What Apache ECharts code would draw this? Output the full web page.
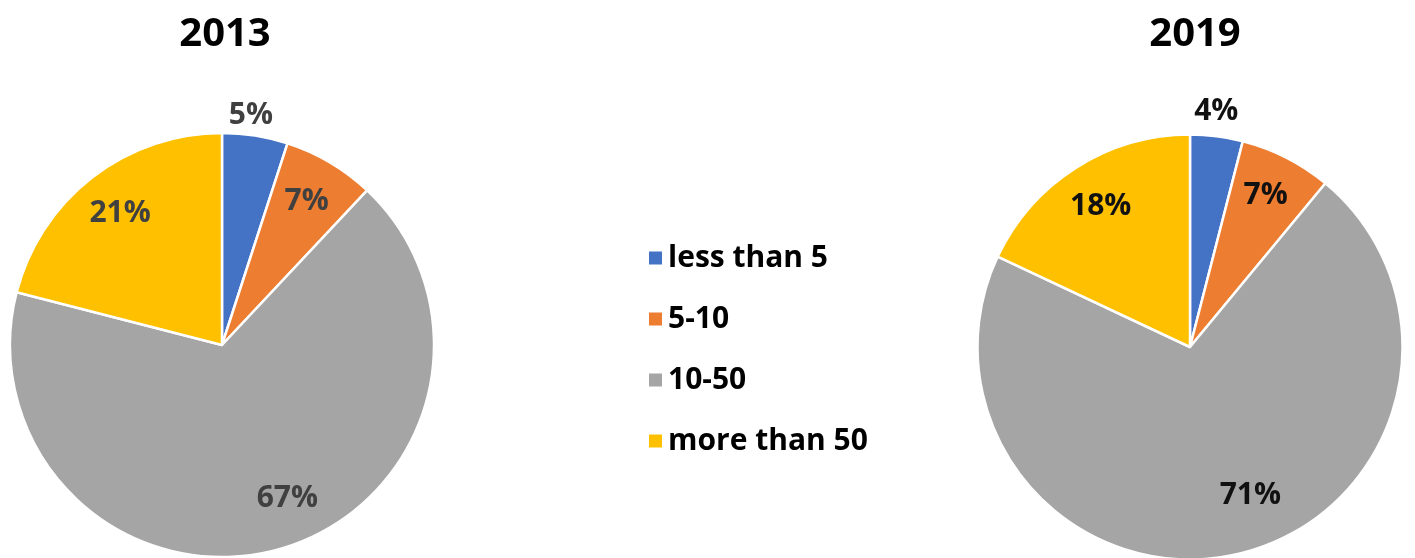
<!DOCTYPE html>
<html>
<head>
<meta charset="utf-8">
<title>Share by size class, 2013 and 2019</title>
<script src="https://cdn.jsdelivr.net/npm/echarts@6/dist/echarts.min.js"></script>
<style>
  html, body { margin: 0; padding: 0; background: #ffffff; }
  #chart { width: 1415px; height: 558px; }
</style>
</head>
<body>
<div id="chart"></div>
<script>
// Size classes and their percentage shares in each year
const categories = ['less than 5', '5-10', '10-50', 'more than 50'];
const years = ['2013', '2019'];
const share2013 = [5, 7, 67, 21];
const share2019 = [4, 7, 71, 18];

const palette = ['#4472C4', '#ED7D31', '#A5A5A5', '#FFC000'];
const FONT = '"Open Sans", "DejaVu Sans", sans-serif';

// Pie geometry (centre and radius of each pie) and small label nudges
const pies = [
  { year: years[0], values: share2013, center: [222, 345], r: 212, labelColor: '#404040',
    outsideLen: 24, nudge: { 0: [-13, 4], 2: [19, -6] } },
  { year: years[1], values: share2019, center: [1190, 347], r: 212.5, labelColor: '#111111',
    outsideLen: 29, nudge: { 0: [-9, 4], 1: [0, -3], 2: [24, -14] } }
];

function pieData(values) {
  return categories.map((name, i) => ({ name: name, value: values[i], itemStyle: { color: palette[i] } }));
}

// Invisible ring carrying the value labels: "inside" labels sit at mid-ring,
// the smallest slice gets its label just outside the rim.
function labelData(values, p) {
  return categories.map((name, i) => {
    const d = { name: name, value: values[i] };
    if (i === 0) {
      d.label = { position: 'outside' };
      d.labelLine = { show: false, length: p.outsideLen, length2: 0 };
    }
    return d;
  });
}

const series = [];
pies.forEach((p) => {
  series.push({
    type: 'pie',
    name: p.year,
    center: p.center,
    radius: [0, p.r],
    startAngle: 90,
    clockwise: true,
    avoidLabelOverlap: false,
    silent: true,
    label: { show: false },
    labelLine: { show: false },
    itemStyle: { borderColor: '#ffffff', borderWidth: 2.5 },
    emphasis: { disabled: true },
    animation: false,
    data: pieData(p.values)
  });
});
pies.forEach((p) => {
  series.push({
    type: 'pie',
    name: p.year + ' labels',
    center: p.center,
    radius: [p.r * 0.54, p.r],
    startAngle: 90,
    clockwise: true,
    avoidLabelOverlap: false,
    silent: true,
    z: 5,
    legendHoverLink: false,
    itemStyle: { color: 'rgba(0,0,0,0)', borderWidth: 0 },
    emphasis: { disabled: true },
    animation: false,
    label: {
      show: true,
      position: 'inside',
      formatter: '{c}%',
      color: p.labelColor,
      fontFamily: FONT,
      fontWeight: 'bold',
      fontSize: 30
    },
    labelLine: { show: false },
    labelLayout: function (params) {
      const n = p.nudge[params.dataIndex];
      const out = {};
      if (params.dataIndex === 0) out.align = 'center';
      if (n) { out.dx = n[0]; out.dy = n[1]; }
      return out;
    },
    data: labelData(p.values, p)
  });
});

const chart = echarts.init(document.getElementById('chart'), null, { renderer: 'canvas' });
chart.setOption({
  backgroundColor: '#ffffff',
  animation: false,
  title: [
    { text: years[0], left: 220, top: 8, textAlign: 'center',
      textStyle: { fontFamily: FONT, fontWeight: 'bold', fontSize: 40, color: '#000000', lineHeight: 44 } },
    { text: years[1], left: 1190, top: 8, textAlign: 'center',
      textStyle: { fontFamily: FONT, fontWeight: 'bold', fontSize: 40, color: '#000000', lineHeight: 44 } }
  ],
  legend: {
    orient: 'vertical',
    left: 642,
    top: 238,
    icon: 'rect',
    itemWidth: 15,
    itemHeight: 15,
    itemGap: 31,
    selectedMode: false,
    data: categories,
    textStyle: { fontFamily: FONT, fontWeight: 'bold', fontSize: 30, color: '#000000', lineHeight: 30, padding: [0, 0, 0, 0] }
  },
  series: series
});
</script>
</body>
</html>
